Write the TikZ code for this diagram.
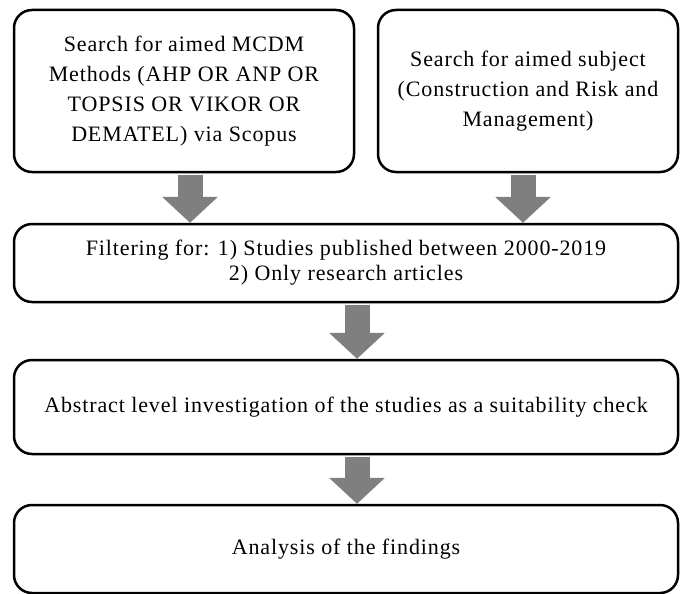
\documentclass[tikz,border=0pt]{standalone}
\usepackage{fontspec}
\setmainfont{Liberation Serif}
\usetikzlibrary{arrows.meta,positioning}
\definecolor{arrowgray}{RGB}{127,127,127}

\begin{document}
\begin{tikzpicture}[x=1pt,y=-1pt,
    stepbox/.style={draw=black, line width=2.5pt, rounded corners=18pt, align=center,
      font=\fontsize{22}{30}\selectfont\addfontfeatures{LetterSpace=4}, inner sep=0pt},
    flow/.style={draw=arrowgray, line width=25pt, shorten <=1.3pt,
      -{Triangle[width=56pt,length=26pt,line width=0pt]}}]
    \useasboundingbox (0,0) rectangle (681,594);
    % search boxes
    \node[stepbox, minimum width=340pt, minimum height=162pt] (meth) at (184,91)
      {Search for aimed MCDM\\Methods (AHP OR ANP OR\\TOPSIS OR VIKOR OR\\DEMATEL) via Scopus};
    \node[stepbox, minimum width=300pt, minimum height=162pt] (subj) at (528,91)
      {Search for aimed subject\\(Construction and Risk and\\Management)};
    % filtering and checks
    \node[stepbox, minimum width=664pt, minimum height=78pt] (filt) at (346,263)
      {Filtering for: 1) Studies published between 2000-2019\\[-5pt]2) Only research articles};
    \node[stepbox, minimum width=664pt, minimum height=94pt] (abst) at (346,407)
      {Abstract level investigation of the studies as a suitability check};
    \node[stepbox, minimum width=664pt, minimum height=88pt] (anal) at (346,549)
      {Analysis of the findings};
    % arrows
    \draw[flow] ([xshift=6pt]meth.south) -- ([xshift=6pt]meth.south |- filt.north);
    \draw[flow] ([xshift=-5pt]subj.south) -- ([xshift=-5pt]subj.south |- filt.north);
    \draw[flow] ([xshift=11pt]filt.south) -- ([xshift=11pt]filt.south |- abst.north);
    \draw[flow] ([xshift=11pt]abst.south) -- ([xshift=11pt]abst.south |- anal.north);
\end{tikzpicture}
\end{document}
